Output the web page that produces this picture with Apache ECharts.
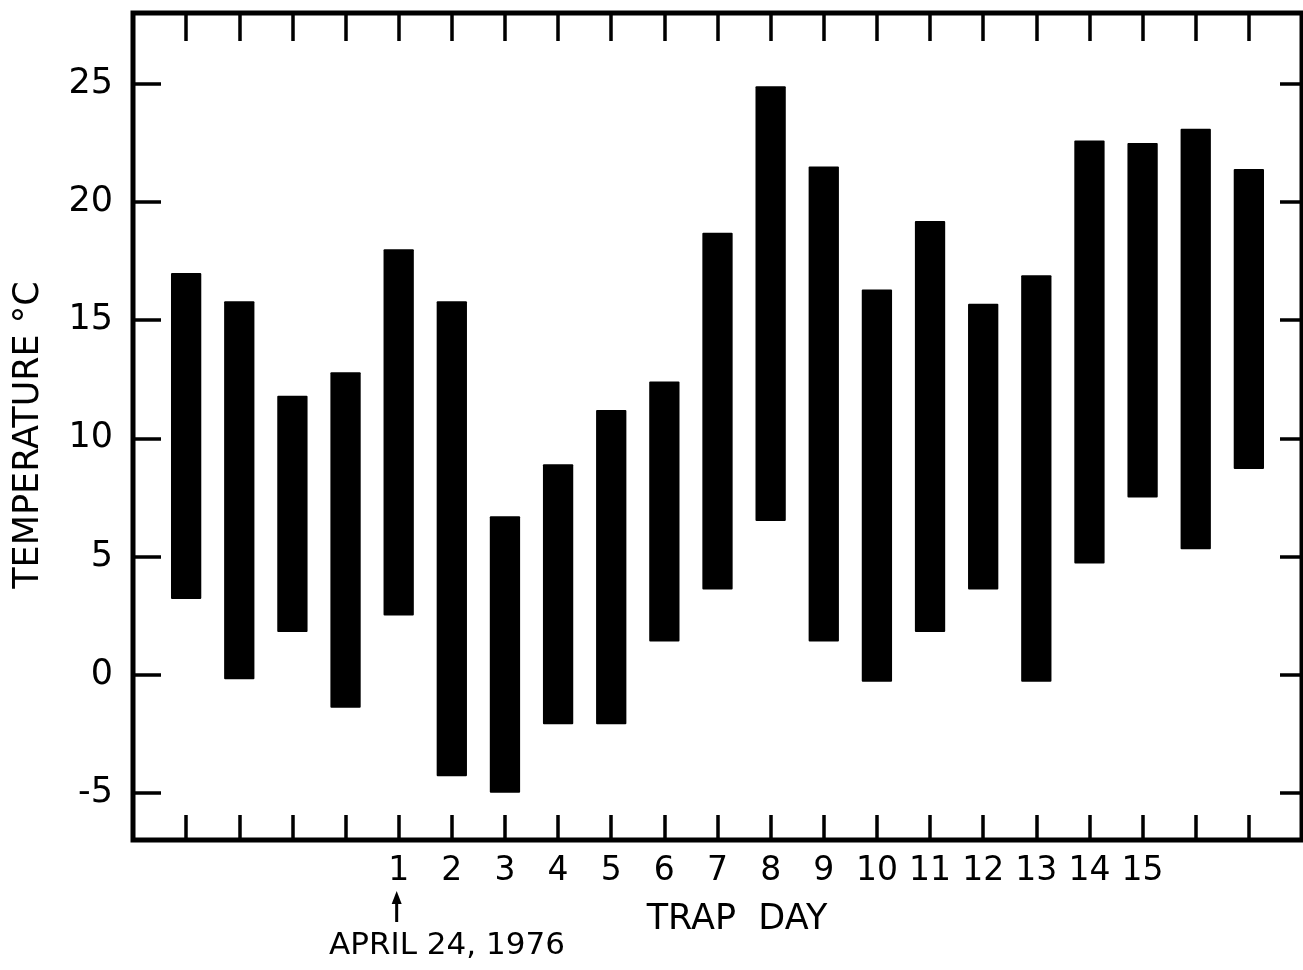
<!DOCTYPE html>
<html>
<head>
<meta charset="utf-8">
<script src="https://cdn.jsdelivr.net/npm/echarts@6/dist/echarts.min.js"></script>
<style>
html, body { margin: 0; padding: 0; background: #ffffff; }
#chart { width: 1303px; height: 970px; }
</style>
</head>
<body>
<div id="chart"></div>
<script>
// ---- data ----
const categories = ['', '', '', '', '1', '2', '3', '4', '5', '6', '7', '8', '9', '10', '11', '12', '13', '14', '15', '', ''];
const lows  = [3.2, -0.2, 1.8, -1.4, 2.5, -4.3, -5.0, -2.1, -2.1, 1.4, 3.6, 6.5, 1.4, -0.3, 1.8, 3.6, -0.3, 4.7, 7.5, 5.3, 8.7];
const highs = [17.0, 15.8, 11.8, 12.8, 18.0, 15.8, 6.7, 8.9, 11.2, 12.4, 18.7, 24.9, 21.5, 16.3, 19.2, 15.7, 16.9, 22.6, 22.5, 23.1, 21.4];
const yTicks = [-5, 0, 5, 10, 15, 20, 25];
const yTitle = 'TEMPERATURE °C';
const xTitle = 'TRAP  DAY';
const startNote = 'APRIL 24, 1976';

// ---- build ----
const positions = categories.map((c, i) => i + 1);
const labelPositions = positions.filter((p, i) => categories[i] !== '');
const seriesData = positions.map((p, i) => [p, lows[i], highs[i]]);

const FONT = 'DejaVu Sans';
const INK = '#000000';

const chart = echarts.init(document.getElementById('chart'), null, { renderer: 'canvas' });

const xCommon = {
  type: 'value', min: 0, max: categories.length + 1, interval: 1,
  axisLine: { show: false, onZero: false },
  splitLine: { show: false }
};
const yCommon = {
  type: 'value', min: -7, max: 28,
  axisLine: { show: false, onZero: false },
  splitLine: { show: false }
};

chart.setOption({
  backgroundColor: '#ffffff',
  animation: false,
  grid: { left: 133, top: 13, right: 1, bottom: 130, show: true, borderColor: INK, borderWidth: 5, backgroundColor: 'transparent' },
  xAxis: [
    Object.assign({}, xCommon, {
      position: 'bottom',
      axisTick: { show: true, inside: true, length: 25, customValues: positions, lineStyle: { color: INK, width: 3.5 } },
      axisLabel: {
        show: true, customValues: labelPositions, margin: 15,
        fontFamily: FONT, fontSize: 33, color: INK,
        formatter: v => categories[v - 1]
      }
    }),
    Object.assign({}, xCommon, {
      position: 'top',
      axisTick: { show: true, inside: true, length: 28, customValues: positions, lineStyle: { color: INK, width: 3.5 } },
      axisLabel: { show: false }
    })
  ],
  yAxis: [
    Object.assign({}, yCommon, {
      position: 'left',
      axisTick: { show: true, inside: true, length: 28, customValues: yTicks, lineStyle: { color: INK, width: 3.5 } },
      axisLabel: { show: true, customValues: yTicks, margin: 20, fontFamily: FONT, fontSize: 35, color: INK }
    }),
    Object.assign({}, yCommon, {
      position: 'right',
      axisTick: { show: true, inside: true, length: 22, customValues: yTicks, lineStyle: { color: INK, width: 3.5 } },
      axisLabel: { show: false }
    })
  ],
  series: [{
    type: 'custom',
    xAxisIndex: 0, yAxisIndex: 0,
    data: seriesData,
    encode: { x: 0, y: [1, 2] },
    renderItem: function (params, api) {
      const x = api.value(0);
      const top = api.coord([x, api.value(2)]);
      const bot = api.coord([x, api.value(1)]);
      const w = api.size([1, 0])[0] * 0.57;
      return {
        type: 'rect',
        shape: { x: top[0] - w / 2, y: top[1], width: w, height: bot[1] - top[1], r: 1 },
        style: { fill: INK }
      };
    }
  }]
});

// annotations placed relative to the axes
const oneX = chart.convertToPixel({ xAxisIndex: 0 }, labelPositions[0]);
chart.setOption({
  graphic: [
    {
      type: 'text', x: 29, y: 435, rotation: Math.PI / 2,
      style: { text: yTitle, font: '35px "DejaVu Sans"', fill: INK, align: 'center', verticalAlign: 'middle' }
    },
    {
      type: 'text', x: 737, y: 920,
      style: { text: xTitle, font: '35px "DejaVu Sans"', fill: INK, align: 'center', verticalAlign: 'middle' }
    },
    {
      type: 'line', shape: { x1: oneX - 2, y1: 900, x2: oneX - 2, y2: 922 },
      style: { stroke: INK, lineWidth: 3 }
    },
    {
      type: 'polygon', shape: { points: [[oneX - 2, 891], [oneX - 7, 904], [oneX + 3, 904]] },
      style: { fill: INK }
    },
    {
      type: 'text', x: 447, y: 946,
      style: { text: startNote, font: '31px "DejaVu Sans"', fill: INK, align: 'center', verticalAlign: 'middle' }
    }
  ]
});
</script>
</body>
</html>
